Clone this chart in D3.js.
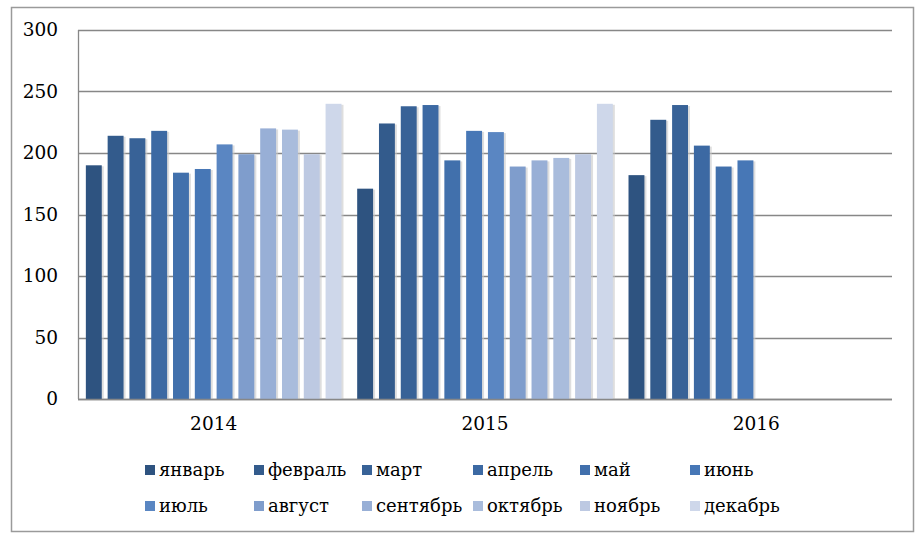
<!DOCTYPE html>
<html>
<head>
<meta charset="utf-8">
<script src="https://cdn.jsdelivr.net/npm/d3@7"></script>
<style>
  html, body { margin: 0; padding: 0; background: #fff; }
  svg { display: block; }
</style>
</head>
<body>
<svg id="chart" width="920" height="537"></svg>
<script>
const years = ["2014", "2015", "2016"];
const months = ["январь", "февраль", "март", "апрель", "май", "июнь",
                "июль", "август", "сентябрь", "октябрь", "ноябрь", "декабрь"];
const values2014 = [190, 214, 212, 218, 184, 187, 207, 199, 220, 219, 199, 240];
const values2015 = [171, 224, 238, 239, 194, 218, 217, 189, 194, 196, 199, 240];
const values2016 = [182, 227, 239, 206, 189, 194, null, null, null, null, null, null];
const yTicks = [0, 50, 100, 150, 200, 250, 300];
const monthColors = ["#2E5380", "#335B8C", "#386297", "#3C69A3", "#4170AC", "#4777B6",
                     "#5A86C2", "#7F9DCC", "#98AFD6", "#A9BCDC", "#BDC9E2", "#CED7EA"];

const seriesByYear = [values2014, values2015, values2016];
const data = [];
years.forEach((y, yi) => {
  months.forEach((m, mi) => {
    const v = seriesByYear[yi][mi];
    if (v != null) data.push({ year: y, month: m, value: v, mi });
  });
});

const svg = d3.select("#chart");
const FONT = "'DejaVu Serif', serif";
const FS = 18;

// outer border
svg.append("rect")
  .attr("x", 11.5).attr("y", 7.5).attr("width", 902).attr("height", 524)
  .attr("fill", "#fff").attr("stroke", "#9a9a9a").attr("stroke-width", 1.5);

const plot = { left: 78, right: 892, top: 30, bottom: 399 };

const y = d3.scaleLinear().domain([0, 300]).range([plot.bottom, plot.top]);
const x0 = d3.scaleBand().domain(years).range([plot.left, plot.right]).padding(0);
const x1 = d3.scaleBand().domain(months).range([0, x0.bandwidth()])
  .paddingInner(0.27).paddingOuter(0.36);
const color = d3.scaleOrdinal().domain(months).range(monthColors);

// gridlines
svg.append("g").selectAll("line").data(yTicks).join("line")
  .attr("x1", plot.left).attr("x2", plot.right)
  .attr("y1", d => Math.round(y(d)) + 0.5).attr("y2", d => Math.round(y(d)) + 0.5)
  .attr("stroke", "#878787").attr("stroke-width", 1.3);

// y axis line
svg.append("line")
  .attr("x1", plot.left + 0.5).attr("x2", plot.left + 0.5)
  .attr("y1", plot.top).attr("y2", plot.bottom)
  .attr("stroke", "#878787").attr("stroke-width", 1.3);

// bar shadows
svg.append("g").selectAll("rect").data(data).join("rect")
  .attr("x", d => x0(d.year) + x1(d.month) + 2)
  .attr("y", d => y(d.value) + 1)
  .attr("width", x1.bandwidth())
  .attr("height", d => plot.bottom - y(d.value) - 1)
  .attr("fill", "#c8c8c8").attr("opacity", 0.6);

// bars
svg.append("g").selectAll("rect").data(data).join("rect")
  .attr("x", d => x0(d.year) + x1(d.month))
  .attr("y", d => y(d.value))
  .attr("width", x1.bandwidth())
  .attr("height", d => plot.bottom - y(d.value))
  .attr("fill", d => color(d.month));

// y axis labels
const yAxis = d3.axisLeft(y).tickValues(yTicks).tickSize(0).tickPadding(0);
const gy = svg.append("g").attr("transform", `translate(${plot.left - 20},0)`).call(yAxis);
gy.select(".domain").remove();
gy.selectAll("text").attr("font-family", FONT).attr("font-size", FS + 0.5).attr("fill", "#000");

// x axis labels
const xAxis = d3.axisBottom(x0).tickSize(0).tickPadding(0);
const gx = svg.append("g").attr("transform", `translate(0,${plot.bottom + 18})`).call(xAxis);
gx.select(".domain").remove();
gx.selectAll("text").attr("font-family", FONT).attr("font-size", FS + 0.5).attr("fill", "#000");

// x axis baseline
svg.append("line")
  .attr("x1", plot.left).attr("x2", plot.right)
  .attr("y1", plot.bottom + 0.5).attr("y2", plot.bottom + 0.5)
  .attr("stroke", "#878787").attr("stroke-width", 1.3);

// legend
const legendCols = [145, 254, 362, 473, 580, 690];
const legendRows = [470, 506];
const lg = svg.append("g").selectAll("g").data(months).join("g")
  .attr("transform", (d, i) => `translate(${legendCols[i % 6]},${legendRows[Math.floor(i / 6)]})`);
lg.append("rect").attr("x", 0).attr("y", -5).attr("width", 10).attr("height", 10)
  .attr("fill", d => color(d));
lg.append("text").attr("x", 14).attr("y", 0).attr("dy", "0.35em")
  .attr("font-family", FONT).attr("font-size", FS).attr("fill", "#000")
  .text(d => d);
</script>
</body>
</html>
